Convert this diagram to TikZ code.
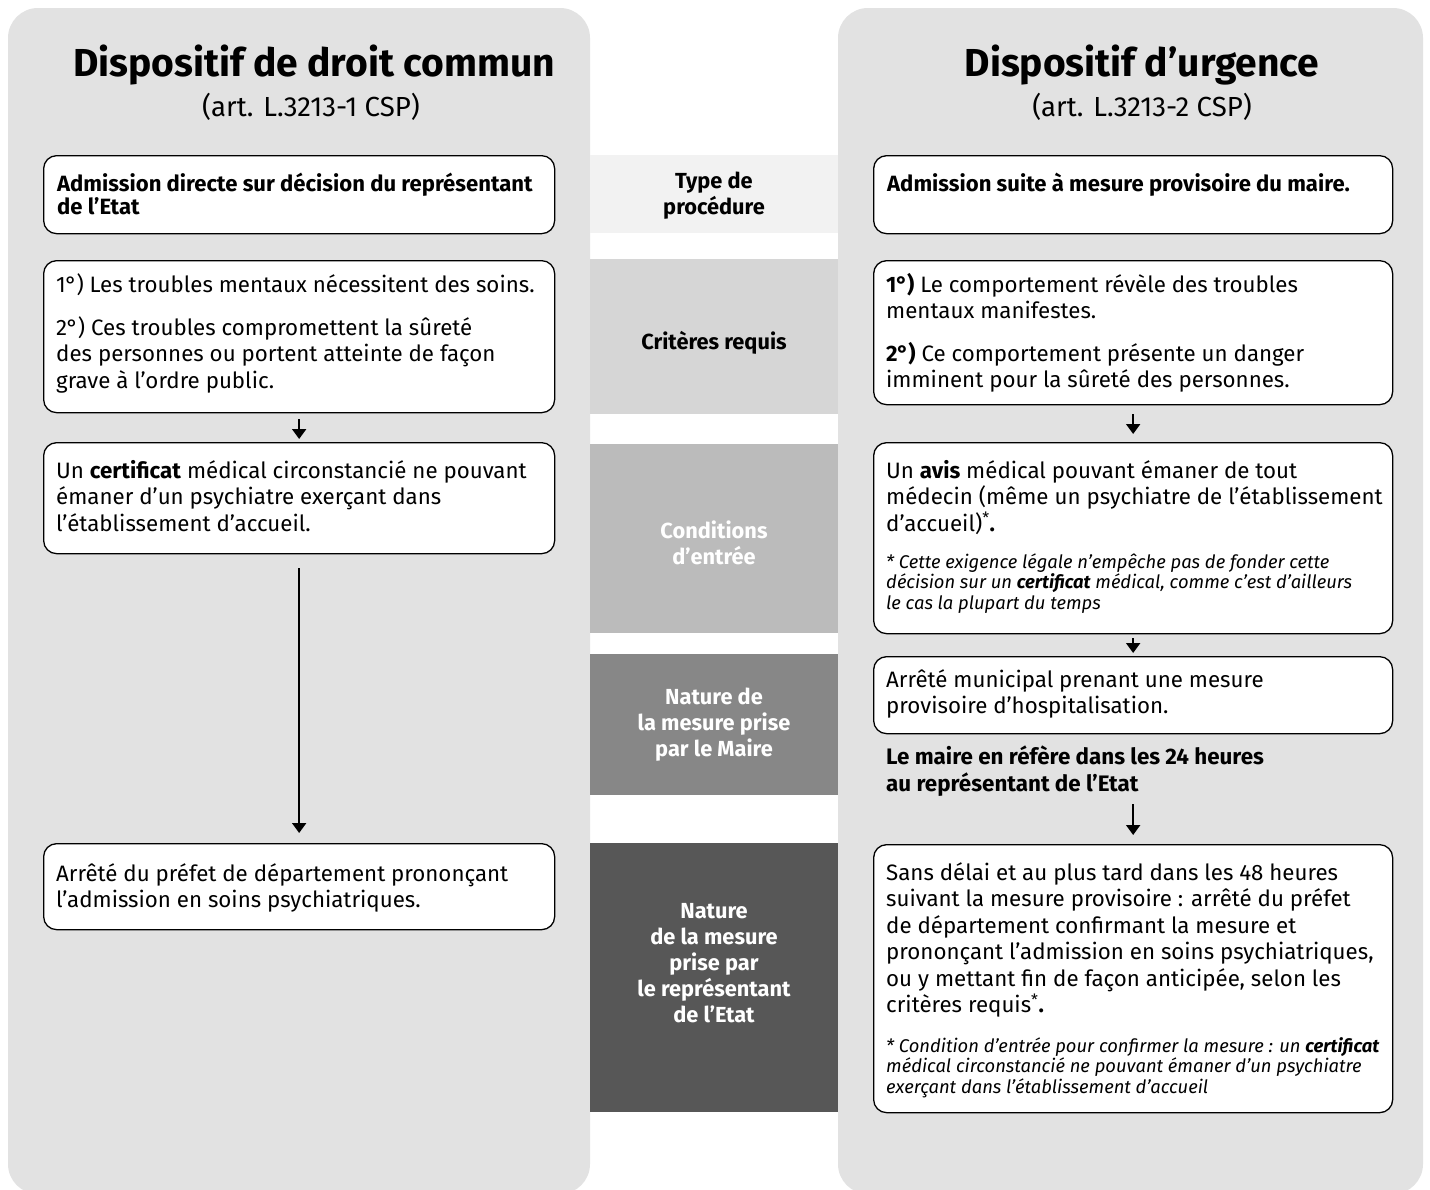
\documentclass[tikz,border=0pt]{standalone}
\usepackage{fontspec}
\setmainfont{Fira Sans}
\usetikzlibrary{arrows.meta,calc}
\definecolor{panelgray}{HTML}{E2E2E2}
\definecolor{bandA}{HTML}{F2F2F2}
\definecolor{bandB}{HTML}{D6D6D6}
\definecolor{bandC}{HTML}{BBBBBB}
\definecolor{bandD}{HTML}{878787}
\definecolor{bandE}{HTML}{575757}
\newcommand\fBody{\fontsize{22.3}{26.5}\selectfont}
\newcommand\fNote{\fontsize{18.4}{20.5}\selectfont\itshape}
\newcommand\fHead{\fontsize{22.1}{23.5}\selectfont\bfseries}
\newcommand\fRefer{\fontsize{22.4}{27}\selectfont\bfseries}
\newcommand\fBand{\fontsize{21.8}{26}\selectfont\bfseries}
\newcommand\fTitle{\fontsize{39}{44}\selectfont\bfseries}
\newcommand\fSub{\fontsize{27.6}{31}\selectfont}
\newcommand\topr{\rule{0pt}{20pt}}
\newcommand\mydeg{\kern-0.5pt°\kern-0.5pt}
\begin{document}
\begin{tikzpicture}[x=1pt,y=-1pt,
  panel/.style={fill=panelgray, rounded corners=30pt},
  box/.style={draw=black, line width=1.3pt, fill=white, rounded corners=13pt, inner sep=0pt, anchor=north west},
  lbox/.style={box, minimum width=511pt},
  rbox/.style={box, minimum width=519pt},
  txt/.style={anchor=north west, inner sep=0pt, align=left, font=\fBody},
  note/.style={anchor=north west, inner sep=0pt, align=left, font=\fNote},
  head/.style={anchor=north west, inner sep=0pt, align=left, font=\fHead},
  refer/.style={anchor=north west, inner sep=0pt, align=left, font=\fRefer},
  band/.style={minimum width=248pt, inner sep=0pt, anchor=north west, draw=none},
  bandtxt/.style={inner sep=0pt, align=center, font=\fBand},
  title/.style={inner sep=0pt, anchor=base, font=\fTitle},
  subtitle/.style={inner sep=0pt, anchor=base, font=\fSub},
  arr/.style={line width=2pt, -{Triangle[width=14pt,length=10pt]}},
]
\useasboundingbox (0,0) rectangle (1430,1189);
\fill[white] (0,0) rectangle (1430,1189);
% panels
\fill[panel] (8,8) rectangle (590,1194);
\fill[panel] (838,8) rectangle (1423,1194);
% middle bands
\node[band, fill=bandA, minimum height=78pt]  (B1) at (590,155) {};
\node[band, fill=bandB, minimum height=155pt] (B2) at (590,259) {};
\node[band, fill=bandC, minimum height=189pt] (B3) at (590,444) {};
\node[band, fill=bandD, minimum height=141pt] (B4) at (590,654) {};
\node[band, fill=bandE, minimum height=269pt] (B5) at (590,843) {};
\node[bandtxt] (B1t) at (714,196) {Type de\\procédure};
\node[bandtxt] (B2t) at (714,343) {Critères requis};
\node[bandtxt, text=white] (B3t) at (714,543) {Conditions\\d’entrée};
\node[bandtxt, text=white] (B4t) at (714,725) {Nature de\\la mesure prise\\par le Maire};
\node[bandtxt, text=white] (B5t) at (714,963) {Nature\\de la mesure\\prise par\\le représentant\\de l’Etat};
% titles
\node[title] (T1) at (314,76) {Dispositif de droit commun};
\node[subtitle] (S1) at (311,116) {(art. L.3213-1 CSP)};
\node[title] (T2) at (1142,76) {Dispositif d’urgence};
\node[subtitle] (S2) at (1142,116) {(art. L.3213-2 CSP)};
% left boxes
\node[lbox, minimum height=78pt]  (L1) at (43,155) {};
\node[lbox, minimum height=152pt] (L2) at (43,260) {};
\node[lbox, minimum height=111pt] (L3) at (43,442) {};
\node[lbox, minimum height=86pt]  (L4) at (43,843) {};
\node[head] (L1t) at (57,171) {\topr Admission directe sur décision du représentant\\de l’Etat};
\node[txt] (L2t) at (56,272) {\topr 1\mydeg) Les troubles mentaux nécessitent des soins.\\[16.5pt]2\mydeg) Ces troubles compromettent la sûreté\\des personnes ou portent atteinte de façon\\grave à l’ordre public.};
\node[txt] (L3t) at (56,458) {\topr Un \textbf{certificat} médical circonstancié ne pouvant\\émaner d’un psychiatre exerçant dans\\l’établissement d’accueil.};
\node[txt] (L4t) at (56,861) {\topr Arrêté du préfet de département prononçant\\l’admission en soins psychiatriques.};
% right boxes
\node[rbox, minimum height=78pt]  (R1) at (873,155) {};
\node[rbox, minimum height=144pt] (R2) at (873,260) {};
\node[rbox, minimum height=191pt] (R3) at (873,442) {};
\node[rbox, minimum height=77pt]  (R4) at (873,656) {};
\node[rbox, minimum height=268pt] (R5) at (873,844) {};
\node[head] (R1t) at (887,171) {\topr Admission suite à mesure provisoire du maire.};
\node[txt] (R2t) at (886,272) {\topr\textbf{1\mydeg)} Le comportement révèle des troubles\\mentaux manifestes.\\[16pt]\textbf{2\mydeg)} Ce comportement présente un danger\\imminent pour la sûreté des personnes.};
\node[txt] (R3t) at (886,458) {\topr Un \textbf{avis} médical pouvant émaner de tout\\médecin (même un psychiatre de l’établissement\\d’accueil)\textsuperscript{*}\textbf{.}};
\node[note] (R3n) at (886,548) {\topr * Cette exigence légale n’empêche pas de fonder cette\\décision sur un \textbf{certificat} médical, comme c’est d’ailleurs\\le cas la plupart du temps};
\node[txt] (R4t) at (886,667) {\topr Arrêté municipal prenant une mesure\\provisoire d’hospitalisation.};
\node[refer] (Rf) at (886,744) {\topr Le maire en réfère dans les 24 heures\\au représentant de l’Etat};
\node[txt] (R5t) at (886,860) {\topr Sans délai et au plus tard dans les 48 heures\\suivant la mesure provisoire : arrêté du préfet\\de département confirmant la mesure et\\prononçant l’admission en soins psychiatriques,\\ou y mettant fin de façon anticipée, selon les\\critères requis\textsuperscript{*}\textbf{.}};
\node[note] (R5n) at (886,1032) {\topr * Condition d’entrée pour confirmer la mesure : un \textbf{certificat}\\médical circonstancié ne pouvant émaner d’un psychiatre\\exerçant dans l’établissement d’accueil};
% arrows
\draw[arr] ([yshift=-6pt]L2.south) -- ([yshift=3pt]L3.north);
\draw[arr] ([yshift=-14pt]L3.south) -- ([yshift=10pt]L4.north);
\draw[arr] ([yshift=-9pt]R2.south) -- ([yshift=8pt]R3.north);
\draw[arr] ([yshift=-4pt]R3.south) -- ([yshift=3pt]R4.north);
\coordinate (RfS) at ($(R5.north |- Rf.south)+(0,8)$);
\draw[arr] (RfS) -- ([yshift=9pt]R5.north);
\end{tikzpicture}
\end{document}
